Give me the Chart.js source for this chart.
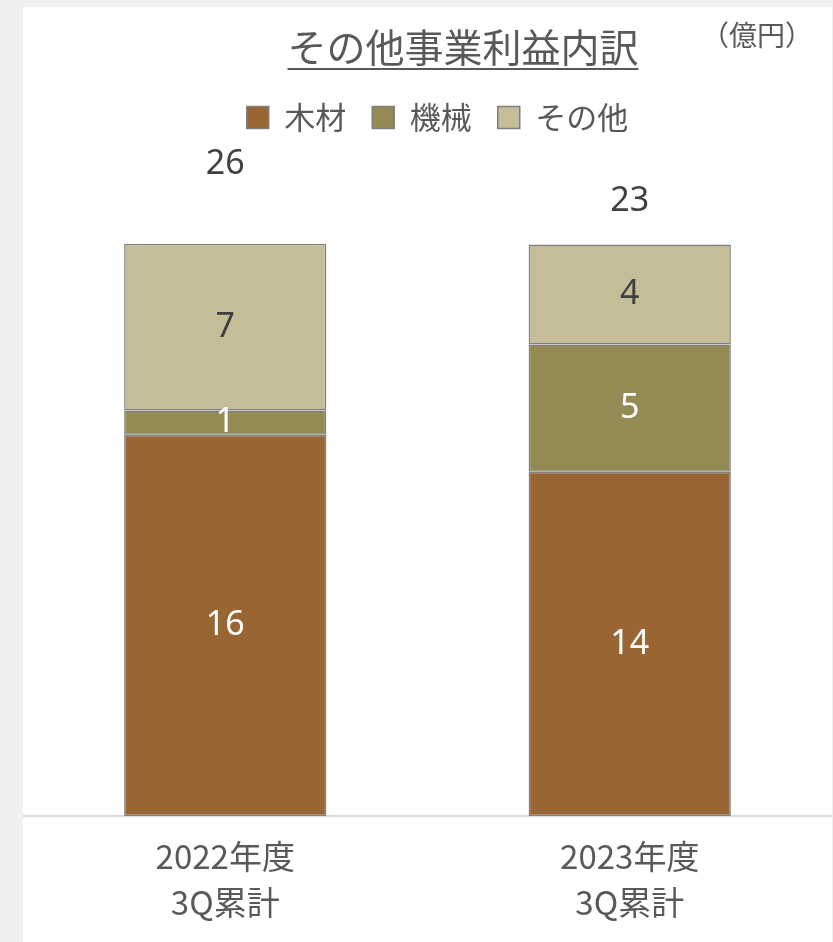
<!DOCTYPE html>
<html lang="ja">
<head>
<meta charset="utf-8">
<title>その他事業利益内訳</title>
<script src="https://cdn.jsdelivr.net/npm/chart.js@4.4.1/dist/chart.umd.min.js"></script>
<style>
    html, body { margin: 0; padding: 0; background: #f0f0f0; }
    #panel {
        position: absolute;
        left: 23px; top: 7px;
        width: 809px; height: 935px;
        background: #ffffff;
    }
    #chart { display: block; }
</style>
</head>
<body>
<div id="panel"><canvas id="chart" width="809" height="935"></canvas></div>
<script>
// data (億円)
const categories = [['2022年度', '3Q累計'], ['2023年度', '3Q累計']];
const seriesNames = ['木材', '機械', 'その他'];
const mokuzai = [16, 14.45];
const kikai = [1.02, 5.34];
const sonota = [7.0, 4.2];
const valueLabels = [['16', '14'], ['1', '5'], ['7', '4']];
const totals = [26, 23];

const colors = ['#996633', '#948b54', '#c4bd97'];
const labelColors = ['#ffffff', '#ffffff', '#404040'];
const textGray = '#595959';

// title, underline and unit drawn on top of the canvas
const headerPlugin = {
    id: 'header',
    afterLayout(chart) {
        // legend sits a little right of the canvas centre in the original
        chart.legend.left += 10;
        chart.legend.right += 10;
    },
    afterDraw(chart) {
        const ctx = chart.ctx;
        ctx.save();
        ctx.fillStyle = textGray;
        ctx.textAlign = 'center';
        ctx.textBaseline = 'middle';
        ctx.font = '39px "Noto Sans CJK JP"';
        const title = 'その他事業利益内訳';
        const cx = 440;
        ctx.fillText(title, cx, 40);
        const w = ctx.measureText(title).width;
        ctx.fillRect(cx - w / 2, 61, w, 2);
        ctx.font = '28px "Noto Sans CJK JP"';
        ctx.fillText('（億円）', 734, 28);
        ctx.restore();
    }
};

// value labels in the middle of each segment, totals over the bars
const valueLabelPlugin = {
    id: 'valueLabels',
    afterDatasetsDraw(chart) {
        const ctx = chart.ctx;
        ctx.save();
        ctx.textAlign = 'center';
        ctx.textBaseline = 'middle';
        ctx.font = '34px "Noto Sans"';
        chart.data.datasets.forEach((ds, i) => {
            const meta = chart.getDatasetMeta(i);
            meta.data.forEach((el, j) => {
                if (ds.type === 'line') {
                    ctx.fillStyle = '#404040';
                    ctx.fillText(String(totals[j]), el.x, el.y);
                } else {
                    ctx.fillStyle = labelColors[i];
                    ctx.fillText(valueLabels[i][j], el.x, (el.y + el.base) / 2);
                }
            });
        });
        ctx.restore();
    }
};

const barSets = [mokuzai, kikai, sonota].map((values, i) => ({
    label: seriesNames[i],
    data: values,
    backgroundColor: colors[i],
    borderColor: '#808080',
    borderWidth: 1.5,
    borderSkipped: false,
    categoryPercentage: 0.5,
    barPercentage: 1,
    yAxisID: 'y'
}));

new Chart(document.getElementById('chart'), {
    type: 'bar',
    data: {
        labels: categories,
        datasets: [...barSets, {
            type: 'line',
            label: '合計',
            data: totals,
            showLine: false,
            pointRadius: 0,
            yAxisID: 'y2'
        }]
    },
    options: {
        responsive: false,
        animation: false,
        layout: { padding: { top: 69, bottom: 0, left: 0, right: 0 } },
        scales: {
            x: {
                stacked: true,
                grid: { display: false, drawTicks: false },
                border: { display: true, color: '#d9d9d9', width: 2 },
                ticks: {
                    color: textGray,
                    padding: 17,
                    font: { family: '"Noto Sans CJK JP"', size: 33, lineHeight: '46px' }
                }
            },
            y: {
                display: false,
                stacked: true,
                min: 0,
                max: 28.25
            },
            y2: {
                display: false,
                min: -26.78,
                max: 27.71
            }
        },
        plugins: {
            title: { display: false },
            tooltip: { enabled: false },
            legend: {
                display: true,
                position: 'top',
                labels: {
                    color: textGray,
                    boxWidth: 22,
                    boxHeight: 22,
                    padding: 26,
                    font: { family: '"Noto Sans CJK JP"', size: 31 },
                    generateLabels: chart => seriesNames.map((name, i) => ({
                        text: name,
                        fillStyle: colors[i],
                        strokeStyle: '#7f7f7f',
                        lineWidth: 1.5,
                        fontColor: textGray,
                        datasetIndex: i
                    }))
                }
            }
        }
    },
    plugins: [headerPlugin, valueLabelPlugin]
});
</script>
</body>
</html>
